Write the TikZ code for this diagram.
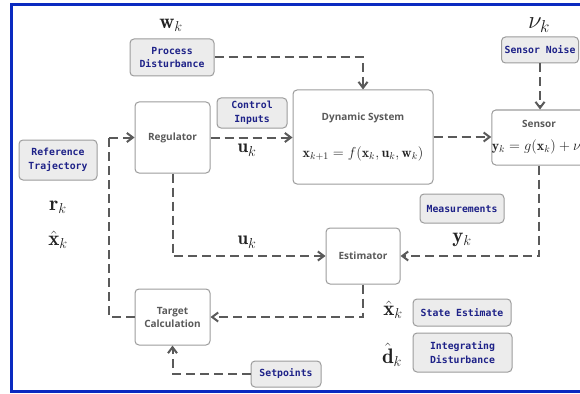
\documentclass[tikz,border=0pt]{standalone}
\usepackage{amsmath}
\usepackage{fontspec}
\setsansfont{Open Sans}
\setmonofont{DejaVu Sans Mono}
\usetikzlibrary{arrows.meta, positioning}
\definecolor{linegray}{HTML}{5A5A5A}
\definecolor{boxgray}{HTML}{9C9C9C}
\definecolor{tagfill}{HTML}{ECECEC}
\definecolor{tagtext}{HTML}{1E2288}
\definecolor{framblue}{HTML}{0A2AC0}
\definecolor{mathtext}{HTML}{222222}

\tikzset{
    block/.style={draw=boxgray, fill=white, line width=1pt, rounded corners=4pt,
        align=center, text=linegray, inner sep=0pt,
        font=\sffamily\bfseries\fontsize{10}{13}\selectfont},
    tag/.style={draw=boxgray, fill=tagfill, line width=1pt, rounded corners=4pt,
        align=center, text=tagtext, inner sep=0pt,
        font=\ttfamily\bfseries\fontsize{9.8}{13.5}\selectfont},
    flow/.style={linegray, line width=2pt, dash pattern=on 9pt off 5pt,
        -{Straight Barb[length=6pt,width=9pt]}},
    link/.style={linegray, line width=2pt, dash pattern=on 9pt off 5pt},
    sym/.style={inner sep=0pt, text=mathtext, font=\fontsize{21}{21}\selectfont}
}

\begin{document}
\begin{tikzpicture}[x=1pt, y=-1pt]
    % page and frame
    \clip (0,0) rectangle (580,393);
    \fill[white] (0,0) rectangle (580,393);
    \draw[framblue, line width=3pt] (11,4.5) rectangle (640,391);

    % blocks
    \node[block, minimum width=75pt, minimum height=71pt] (reg) at (172.5,137.5) {Regulator};
    \node[block, minimum width=140pt, minimum height=94pt] (dyn) at (363,137)
        {Dynamic System\\[23pt]{\color{mathtext}\fontsize{14}{17}\selectfont$\mathbf{x}_{k+1} = f(\mathbf{x}_k, \mathbf{u}_k, \mathbf{w}_k)$}};
    \node[block, minimum width=94pt, minimum height=55pt] (sen) at (539,137.5)
        {Sensor\\[10pt]{\color{mathtext}\fontsize{14}{17}\selectfont$\mathbf{y}_k = g(\mathbf{x}_k) + \nu_k$}};
    \node[block, minimum width=74pt, minimum height=56pt] (est) at (363,256) {Estimator};
    \node[block, minimum width=75pt, minimum height=56pt] (tgt) at (172.5,317) {Target\\Calculation};

    % tags
    \node[tag, minimum width=84pt, minimum height=37pt] (pdist) at (172,57.5) {Process\\Disturbance};
    \node[tag, minimum width=70pt, minimum height=30pt] (ctrl) at (252,113) {Control\\Inputs};
    \node[tag, minimum width=78pt, minimum height=40pt] (ref) at (58,160) {Reference\\Trajectory};
    \node[tag, minimum width=77pt, minimum height=26pt] (snoise) at (540,50) {Sensor Noise};
    \node[tag, minimum width=84pt, minimum height=29pt] (meas) at (462,208.5) {Measurements};
    \node[tag, minimum width=98pt, minimum height=27pt] (sest) at (462,312.5) {State Estimate};
    \node[tag, minimum width=99pt, minimum height=39pt] (idist) at (462.5,352.5) {Integrating\\Disturbance};
    \node[tag, minimum width=70pt, minimum height=26pt] (setp) at (286,374) {Setpoints};

    % symbols
    \node[sym] (wk) at (171,25) {$\mathbf{w}_k$};
    \node[sym, font=\fontsize{27}{27}\selectfont] (nuk) at (539,25) {$\nu_k$};
    \node[sym] (rk) at (58,207) {$\mathbf{r}_k$};
    \node[sym] (xk) at (58,240) {$\hat{\mathbf{x}}_k$};
    \node[sym, font=\fontsize{19}{19}\selectfont] (uka) at (247,150) {$\mathbf{u}_k$};
    \node[sym, font=\fontsize{19}{19}\selectfont] (ukb) at (247,242) {$\mathbf{u}_k$};
    \node[sym] (yk) at (462,240) {$\mathbf{y}_k$};
    \node[sym] (xhat) at (393,310) {$\hat{\mathbf{x}}_k$};
    \node[sym] (dhat) at (392,355) {$\hat{\mathbf{d}}_k$};

    % connectors
    \coordinate (loop) at (109,137.5);
    \draw[flow] (pdist.east) -| (dyn.north);
    \draw[flow] (reg.east) -- (reg.east -| dyn.west);
    \draw[flow] (dyn.east) -- (dyn.east -| sen.west);
    \draw[flow] (snoise.south) -- (snoise.south |- sen.north);
    \draw[flow] (sen.south) |- (est.east);
    \draw[flow] (reg.south) |- (est.west);
    \draw[flow] (est.south) |- (tgt.east);
    \draw[flow] (setp.west) -| (tgt.south);
    \draw[link] (tgt.west) -| (loop);
    \draw[flow] (loop) -- (reg.west);

\end{tikzpicture}
\end{document}
